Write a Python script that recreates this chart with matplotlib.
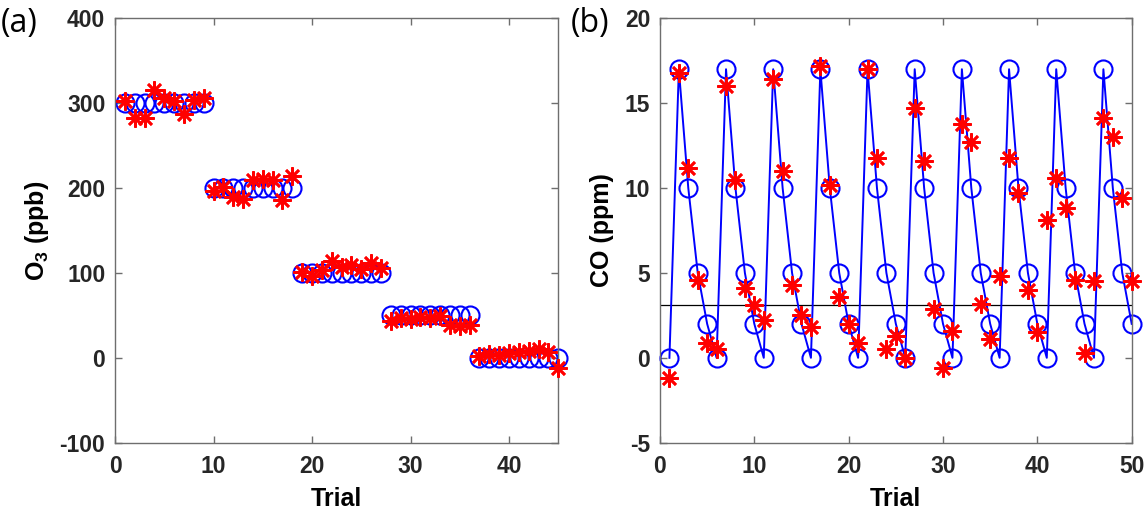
import matplotlib
matplotlib.use("Agg")
import matplotlib.pyplot as plt
import numpy as np

plt.rcParams['font.family'] = ['Liberation Sans', 'DejaVu Sans']
plt.rcParams['mathtext.fontset'] = 'custom'
plt.rcParams['mathtext.rm'] = 'Liberation Sans:bold'
plt.rcParams['mathtext.bf'] = 'Liberation Sans:bold'
plt.rcParams['axes.unicode_minus'] = False

# ---- Panel (a): O3 ----
o3_trials = list(range(1, 46))
o3_set = [300]*9 + [200]*9 + [100]*9 + [50]*9 + [0]*9
o3_meas = [302, 282, 282, 316, 306, 302, 287, 304, 306,
           196, 201, 189, 187, 209, 211, 209, 186, 214,
           101, 96, 103, 114, 107, 109, 105, 112, 106,
           43, 47, 46, 48, 47, 49, 39, 38, 39,
           2, 4, 3, 6, 7, 8, 10, 7, -12]

# ---- Panel (b): CO ----
co_trials = list(range(1, 51))
co_set = [0, 17, 10, 5, 2] * 10
co_meas = [-1.2, 16.8, 11.2, 4.6, 0.9, 0.5, 16.0, 10.5, 4.1, 3.1,
           2.2, 16.4, 11.0, 4.3, 2.5, 1.8, 17.2, 10.2, 3.6, 2.0,
           0.9, 17.0, 11.8, 0.5, 1.3, 0.0, 14.7, 11.6, 2.9, -0.6,
           1.6, 13.8, 12.7, 3.2, 1.1, 4.8, 11.8, 9.7, 4.0, 1.5,
           8.1, 10.6, 8.8, 4.6, 0.3, 4.5, 14.1, 13.0, 9.4, 4.5]
co_threshold = 3.1

blue = '#0000ff'
red = '#ff0000'
axcol = '#6e6e6e'
star = (8, 2, 0)

fig = plt.figure(figsize=(11.48, 5.14), dpi=100)
ax1 = fig.add_axes([0.1002, 0.1387, 0.3861, 0.8257])
ax2 = fig.add_axes([0.5749, 0.1387, 0.4109, 0.8257])

ax1.plot(o3_trials, o3_set, linestyle='none', marker='o', ms=13,
         mfc='none', mec=blue, mew=1.5, zorder=2, clip_on=False)
ax1.plot(o3_trials, o3_meas, linestyle='none', marker=star, ms=13,
         mec=red, mew=1.9, zorder=3, clip_on=False)
ax1.set_xlim(0, 45)
ax1.set_ylim(-100, 400)
ax1.set_xticks([0, 10, 20, 30, 40])
ax1.set_yticks([-100, 0, 100, 200, 300, 400])
ax1.set_xlabel('Trial', fontsize=18, fontweight='bold', labelpad=6)
ax1.set_ylabel(r'O$_\mathbf{3}$ (ppb)', fontsize=18, fontweight='bold', labelpad=6)

ax2.plot(co_trials, co_set, linestyle='-', color=blue, lw=1.4, marker='o', ms=13,
         mfc='none', mec=blue, mew=1.5, zorder=2, clip_on=False)
ax2.plot(co_trials, co_meas, linestyle='none', marker=star, ms=13,
         mec=red, mew=1.9, zorder=3, clip_on=False)
ax2.axhline(co_threshold, color='black', lw=0.9, zorder=1)
ax2.set_xlim(0, 50)
ax2.set_ylim(-5, 20)
ax2.set_xticks([0, 10, 20, 30, 40, 50])
ax2.set_yticks([-5, 0, 5, 10, 15, 20])
ax2.set_xlabel('Trial', fontsize=18, fontweight='bold', labelpad=6)
ax2.set_ylabel('CO (ppm)', fontsize=18, fontweight='bold', labelpad=8)

for ax in (ax1, ax2):
    for s in ax.spines.values():
        s.set_color(axcol)
        s.set_linewidth(1.0)
    ax.tick_params(direction='in', top=True, right=True, length=5, width=1.0,
                   color=axcol, labelsize=16.5, labelcolor='#262626')
    ax.tick_params(axis='x', pad=9)
    ax.tick_params(axis='y', pad=7)
    for lab in ax.get_xticklabels() + ax.get_yticklabels():
        lab.set_fontweight('bold')

fig.text(0.001, 0.955, '(a)', fontsize=23, ha='left', va='center', family=['Open Sans', 'DejaVu Sans'])
fig.text(0.497, 0.955, '(b)', fontsize=23, ha='left', va='center', family=['Open Sans', 'DejaVu Sans'])

fig.savefig('out.png', dpi=100)
